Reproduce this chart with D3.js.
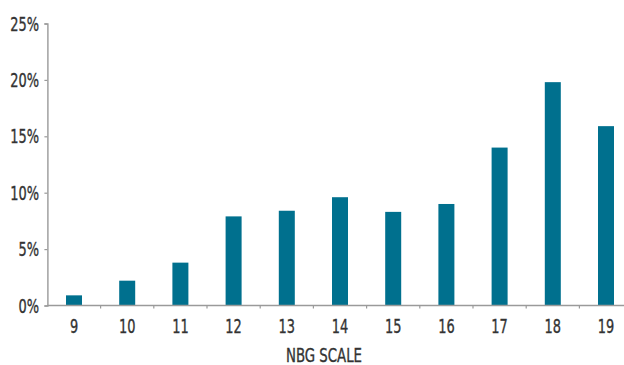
<!DOCTYPE html>
<html>
<head>
<meta charset="utf-8">
<script src="https://cdn.jsdelivr.net/npm/d3@7"></script>
<style>
  html, body { margin: 0; padding: 0; background: #fff; }
  svg { display: block; }
  text { font-family: "Liberation Sans Narrow", "DejaVu Sans Condensed", "Liberation Sans", sans-serif; fill: #333; stroke: #333; stroke-width: 0.35; }
</style>
</head>
<body>
<svg id="chart" width="624" height="365"></svg>
<script>
// NBG scale categories and share of respondents (%)
const categories = ["9", "10", "11", "12", "13", "14", "15", "16", "17", "18", "19"];
const shares = [0.9, 2.2, 3.8, 7.9, 8.4, 9.6, 8.3, 9.0, 14.0, 19.8, 15.9];
const yTicks = [0, 5, 10, 15, 20, 25];
const xTitle = "NBG SCALE";

(function () {
  const svg = d3.select("#chart");
  const m = { left: 47.4, right: 632.6, top: 23.5, bottom: 305.5 };
  const axisColor = "#9a9a9a";
  const barColor = "#00708e";

  const x = d3.scaleBand().domain(categories).range([m.left, m.right]).paddingInner(0).paddingOuter(0);
  const y = d3.scaleLinear().domain([0, 25]).range([m.bottom, m.top]);
  const barW = 16;

  // bars
  svg.append("g").selectAll("rect")
    .data(categories.map((c, i) => ({ c, v: shares[i] })))
    .join("rect")
    .attr("x", d => x(d.c) + x.bandwidth() / 2 - barW / 2)
    .attr("y", d => y(d.v))
    .attr("width", barW)
    .attr("height", d => y(0) - y(d.v))
    .attr("fill", barColor);

  // y axis
  const yAxis = svg.append("g").attr("transform", `translate(${m.left},0)`)
    .call(d3.axisLeft(y).tickValues(yTicks).tickSize(3).tickFormat(() => ""));
  yAxis.select(".domain").attr("stroke", axisColor).attr("stroke-width", 1.4);
  yAxis.selectAll(".tick line").attr("stroke", axisColor).attr("stroke-width", 1.2);

  svg.append("g").selectAll("text")
    .data(yTicks)
    .join("text")
    .attr("transform", d => `translate(39,${y(d) + 7}) scale(0.72,1)`)
    .attr("text-anchor", "end")
    .attr("font-size", 20)
    .text(d => d + "%");

  // x axis with ticks at band boundaries
  const xAxis = svg.append("g").attr("transform", `translate(0,${m.bottom})`);
  xAxis.append("line")
    .attr("x1", m.left).attr("x2", m.right)
    .attr("stroke", axisColor).attr("stroke-width", 1.4);
  xAxis.selectAll("line.tk")
    .data(categories.slice(1))
    .join("line")
    .attr("class", "tk")
    .attr("x1", d => x(d)).attr("x2", d => x(d))
    .attr("y1", 0).attr("y2", 3)
    .attr("stroke", axisColor).attr("stroke-width", 1.2);

  svg.append("g").selectAll("text")
    .data(categories)
    .join("text")
    .attr("transform", d => `translate(${x(d) + x.bandwidth() / 2},333) scale(0.72,1)`)
    .attr("text-anchor", "middle")
    .attr("font-size", 20)
    .text(d => d);

  svg.append("text")
    .attr("transform", "translate(324,362) scale(0.78,1)")
    .attr("text-anchor", "middle")
    .attr("font-size", 19)
    .text(xTitle);
})();
</script>
</body>
</html>
